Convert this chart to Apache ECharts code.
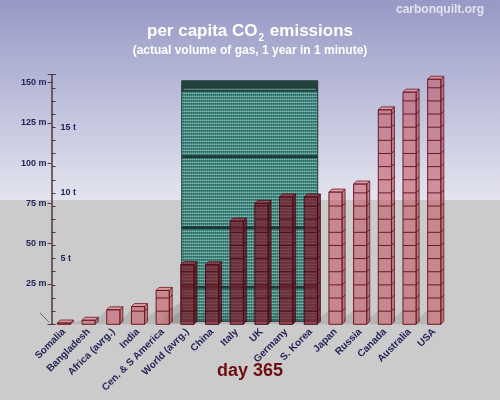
<!DOCTYPE html>
<html lang="en">
	<head>
		<meta charset="UTF-8" />
		<title>per capita CO2 emissions</title>
		<script src="https://cdn.jsdelivr.net/npm/echarts@6/dist/echarts.min.js"></script>
		<style>
			html, body { margin: 0; padding: 0; }
		</style>
	</head>
	<body>
		<div id="myChart" style="width: 500px; height: 400px"></div>

		<script>
			// data (heights in metres of stacked 1 t cubes)
			const categories = [
				"Somalia", "Bangladesh", "Africa (avrg.)", "India", "Cen. & S America",
				"World (avrg.)", "China", "Italy", "UK", "Germany", "S. Korea",
				"Japan", "Russia", "Canada", "Australia", "USA",
			];
			const volumes = [0.8, 2.5, 9, 11, 21, 37, 37, 64, 75, 79, 79, 82, 87, 133, 144, 152];
			const metreTicks = [25, 50, 75, 100, 125, 150];
			const tonneTicks = [5, 10, 15];
			const metresPerTonne = 8.15;
			// the building behind the bars: category span and height (m)
			const buildingSpan = [5, 10];
			const buildingHeight = [151];
			const buildingBands = [104, 60, 23];

			const yMax = 155;

			// little window pattern for the building
			function makePattern() {
				const c = document.createElement("canvas");
				c.width = 2;
				c.height = 3;
				const ctx = c.getContext("2d");
				const px = [
					["#80b8af", "#609e96"],
					["#3c7f78", "#2e6b65"],
					["#4b8e87", "#3b7b75"],
				];
				for (let y = 0; y < 3; y++) {
					for (let x = 0; x < 2; x++) {
						ctx.fillStyle = px[y][x];
						ctx.fillRect(x, y, 1, 1);
					}
				}
				return c;
			}
			const windowPattern = { image: makePattern(), repeat: "repeat" };

			function renderBuilding(params, api) {
				const a = api.coord([api.value(0), 0]);
				const b = api.coord([api.value(1), 0]);
				const bw = api.size([1, 0])[0];
				const left = a[0] - bw * 0.23;
				const right = b[0] + bw * 0.28;
				const top = api.coord([0, api.value(2)])[1];
				const bottom = a[1] - 3;
				const children = [
					{
						// floor shadow of the building
						type: "polygon",
						shape: { points: [[left, bottom - 20], [left - 18, bottom - 6], [left - 18, bottom + 2], [left, bottom + 2]] },
						style: { fill: "rgba(0,0,0,0.12)" },
					},
					{
						type: "rect",
						shape: { x: left, y: top, width: right - left, height: bottom - top },
						style: { fill: windowPattern, stroke: "#1f3a38", lineWidth: 1 },
					},
					{
						type: "rect",
						shape: { x: left, y: top, width: right - left, height: 11 },
						style: { fill: "#23403d" },
					},
					{
						type: "rect",
						shape: { x: left + 2, y: top + 8, width: right - left - 4, height: 1 },
						style: { fill: "#6d9d97" },
					},
				];
				buildingBands.forEach((h) => {
					const y = api.coord([0, h])[1];
					children.push({
						type: "rect",
						shape: { x: left, y: y - 1.5, width: right - left, height: 3 },
						style: { fill: "#1f3b39" },
					});
				});
				return { type: "group", children };
			}

			function renderCubes(params, api) {
				const i = api.value(0);
				const v = api.value(1);
				const base = api.coord([i, 0]);
				const top = api.coord([i, v]);
				const side = api.size([0, metresPerTonne])[1];
				const x0 = base[0] - side / 2;
				const x1 = base[0] + side / 2;
				const y0 = base[1];
				const y1 = Math.min(top[1], y0 - 1);
				const dx = 3;
				const dy = -3;
				const inFront = i >= buildingSpan[0] && i <= buildingSpan[1];
				const fill = inFront ? "rgba(125,25,42,0.72)" : "rgba(196,86,98,0.58)";
				const sideFill = inFront ? "rgba(95,16,30,0.78)" : "rgba(170,60,72,0.58)";
				const topFill = inFront ? "rgba(150,50,62,0.8)" : "rgba(222,140,148,0.75)";
				const edge = inFront ? "#4a0c16" : "#6a1822";
				const sh = Math.min(14, y0 - y1);
				const children = [
					{
						// floor shadow falling to the left
						type: "polygon",
						shape: { points: [[x0, y0 - sh], [x0 - 10, y0 - sh * 0.4], [x0 - 10, y0], [x0, y0]] },
						style: { fill: "rgba(0,0,0,0.1)" },
					},
					{
						type: "polygon",
						shape: { points: [[x1, y0], [x1 + dx, y0 + dy], [x1 + dx, y1 + dy], [x1, y1]] },
						style: { fill: sideFill, stroke: edge, lineWidth: 0.8 },
					},
					{
						type: "polygon",
						shape: { points: [[x0, y1], [x1, y1], [x1 + dx, y1 + dy], [x0 + dx, y1 + dy]] },
						style: { fill: topFill, stroke: edge, lineWidth: 0.8 },
					},
					{
						type: "rect",
						shape: { x: x0, y: y1, width: x1 - x0, height: y0 - y1 },
						style: { fill: fill, stroke: edge, lineWidth: 1 },
					},
				];
				for (let t = 1; t * metresPerTonne < v - 1; t++) {
					const y = api.coord([i, t * metresPerTonne])[1];
					children.push({
						type: "polyline",
						shape: { points: [[x0, y], [x1, y], [x1 + dx, y + dy]] },
						style: { stroke: edge, lineWidth: 1, fill: null },
					});
				}
				return { type: "group", children };
			}

			const chartContainer = document.getElementById("myChart");
			const myChart = echarts.init(chartContainer);

			const font = "Liberation Sans, Arial, sans-serif";

			const option = {
				animation: false,
				textStyle: { fontFamily: font },
				graphic: [
					{
						type: "rect",
						z: -10,
						shape: { x: 0, y: 0, width: 500, height: 200 },
						style: {
							fill: new echarts.graphic.LinearGradient(0, 0, 0, 1, [
								{ offset: 0, color: "#9799c6" },
								{ offset: 1, color: "#e4e4ef" },
							]),
						},
					},
					{
						type: "rect",
						z: -10,
						shape: { x: 0, y: 200, width: 500, height: 200 },
						style: { fill: "#cbcbcb" },
					},
					{
						type: "line",
						z: 5,
						shape: { x1: 40, y1: 313, x2: 49, y2: 322 },
						style: { stroke: "#6a6a6a", lineWidth: 1 },
					},
					{
						type: "text",
						right: 16,
						top: 4,
						style: {
							text: "carbonquilt.org",
							fill: "#e2e2ee",
							font: "bold 12px " + font,
						},
					},
					{
						type: "text",
						left: "center",
						top: 362,
						style: {
							text: "day 365",
							fill: "#6e0d10",
							font: "bold 18px " + font,
							x: -7,
						},
					},
				],
				title: {
					text: "per capita CO{s|2} emissions",
					subtext: "(actual volume of gas, 1 year in 1 minute)",
					left: "center",
					top: 16,
					itemGap: 2,
					textStyle: {
						color: "#ffffff",
						fontSize: 17,
						fontWeight: "bold",
						fontFamily: font,
						lineHeight: 20,
						rich: {
							s: {
								color: "#ffffff",
								fontSize: 10,
								fontWeight: "bold",
								fontFamily: font,
								verticalAlign: "top",
								padding: [12, 1, 0, 1],
							},
						},
					},
					subtextStyle: {
						color: "#ffffff",
						fontSize: 12,
						fontWeight: "bold",
						fontFamily: font,
					},
				},
				grid: { left: 51.6, right: 53.4, top: 74.4, bottom: 75.7 },
				xAxis: {
					type: "category",
					data: categories,
					axisLine: { show: false },
					axisTick: { show: false },
					axisLabel: {
						interval: 0,
						rotate: 45,
						margin: 6,
						color: "#25255a",
						fontSize: 10,
						fontWeight: "bold",
						fontFamily: font,
					},
				},
				yAxis: [
					{
						type: "value",
						min: 0,
						max: yMax,
						interval: 25,
						splitLine: { show: false },
						axisLine: { show: true, lineStyle: { color: "#4d3a3a", width: 1.5 } },
						axisTick: { show: true, length: 4, lineStyle: { color: "#4d3a3a" } },
						axisLabel: {
							margin: 5,
							color: "#25255a",
							fontSize: 9,
							fontWeight: "bold",
							fontFamily: font,
							formatter: (v) => (metreTicks.includes(v) ? v + " m" : ""),
						},
					},
					{
						type: "value",
						position: "left",
						min: 0,
						max: yMax / metresPerTonne,
						interval: 1,
						splitLine: { show: false },
						axisLine: { show: false },
						axisTick: { show: true, inside: true, length: 4, lineStyle: { color: "#4d3a3a" } },
						axisLabel: {
							inside: true,
							margin: 9,
							color: "#25255a",
							fontSize: 9,
							fontWeight: "bold",
							fontFamily: font,
							formatter: (v) => (tonneTicks.includes(v) ? v + " t" : ""),
						},
					},
				],
				series: [
					{
						type: "custom",
						name: "building",
						z: 1,
						clip: false,
						renderItem: renderBuilding,
						encode: { x: [0, 1], y: 2 },
						data: [[buildingSpan[0], buildingSpan[1], buildingHeight[0]]],
					},
					{
						type: "custom",
						name: "volume",
						z: 2,
						clip: false,
						renderItem: renderCubes,
						encode: { x: 0, y: 1 },
						data: volumes.map((v, i) => [i, v]),
					},
				],
			};

			myChart.setOption(option);

			window.addEventListener("resize", function () {
				myChart.resize();
			});
		</script>
	</body>
</html>
